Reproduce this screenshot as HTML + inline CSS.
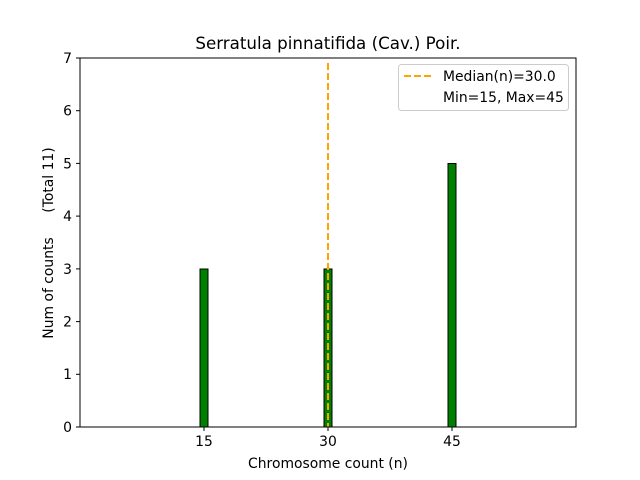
<!DOCTYPE html>
<html><head><style>body{margin:0;background:#fff}svg{display:block}</style></head><body>
<svg width="640" height="480" xmlns="http://www.w3.org/2000/svg" font-family="DejaVu Sans, Liberation Sans, sans-serif">
<rect width="640" height="480" fill="#fff"/>
<text x="328" y="49" font-size="16.7" text-anchor="middle">Serratula pinnatifida (Cav.) Poir.</text>
<line x1="80" y1="427" x2="481" y2="427" stroke="#000" stroke-width="1"/>
<rect x="200" y="269" width="8" height="158" fill="green" stroke="#000" stroke-width="1"/>
<rect x="324" y="269" width="8" height="158" fill="green" stroke="#000" stroke-width="1"/>
<rect x="448" y="163.5" width="8" height="263.5" fill="green" stroke="#000" stroke-width="1"/>
<line x1="328" y1="63" x2="328" y2="427" stroke="orange" stroke-width="2" stroke-dasharray="7,3"/>
<rect x="80" y="58" width="496" height="369" fill="none" stroke="#000" stroke-width="1"/>
<g font-size="13.9" text-anchor="end">
<g stroke="#000"><line x1="76" y1="427" x2="80" y2="427"/><line x1="76" y1="374.3" x2="80" y2="374.3"/><line x1="76" y1="321.6" x2="80" y2="321.6"/><line x1="76" y1="268.9" x2="80" y2="268.9"/><line x1="76" y1="216.1" x2="80" y2="216.1"/><line x1="76" y1="163.4" x2="80" y2="163.4"/><line x1="76" y1="110.7" x2="80" y2="110.7"/><line x1="76" y1="58" x2="80" y2="58"/></g>
<text x="72" y="432">0</text><text x="72" y="379">1</text><text x="72" y="326.5">2</text><text x="72" y="274">3</text><text x="72" y="221">4</text><text x="72" y="168.5">5</text><text x="72" y="115.5">6</text><text x="72" y="63">7</text>
</g>
<g font-size="13.9" text-anchor="middle">
<g stroke="#000"><line x1="204" y1="427" x2="204" y2="431"/><line x1="328" y1="427" x2="328" y2="431"/><line x1="452" y1="427" x2="452" y2="431"/></g>
<text x="204" y="446">15</text><text x="328" y="446">30</text><text x="452" y="446">45</text>
</g>
<text x="328" y="468" font-size="13.9" text-anchor="middle">Chromosome count (n)</text>
<text transform="translate(53,288) rotate(-90)" font-size="13.9" text-anchor="middle">Num of counts</text>
<text transform="translate(53,180) rotate(-90)" font-size="13.9" text-anchor="middle">(Total 11)</text>
<rect x="398.5" y="64.5" width="170" height="46" rx="3" fill="#fff" fill-opacity="0.8" stroke="#ccc"/>
<line x1="404" y1="76" x2="432" y2="76" stroke="orange" stroke-width="2" stroke-dasharray="7,3"/>
<text x="443" y="81" font-size="13.9">Median(n)=30.0</text>
<text x="443" y="102" font-size="13.9">Min=15, Max=45</text>
</svg>
</body></html>
